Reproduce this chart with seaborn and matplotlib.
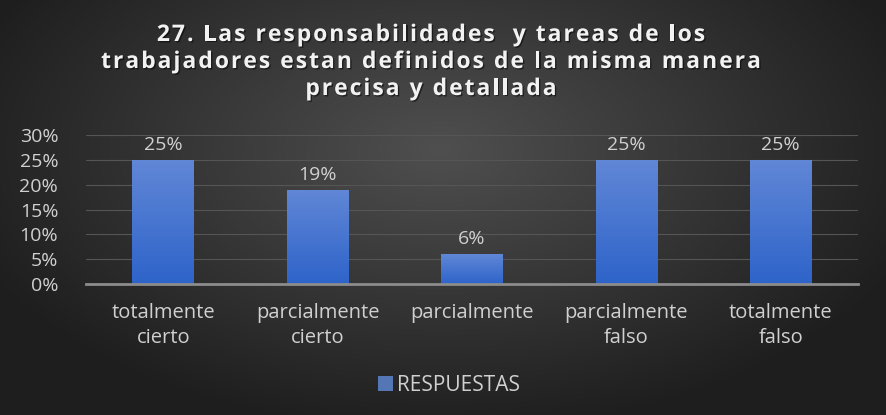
import numpy as np
import pandas as pd
import matplotlib
matplotlib.use("Agg")
import matplotlib.pyplot as plt
import matplotlib.patheffects as pe
import seaborn as sns

categories = ["totalmente\ncierto", "parcialmente\ncierto", "parcialmente",
              "parcialmente\nfalso", "totalmente\nfalso"]
values = [0.25, 0.19, 0.06, 0.25, 0.25]
yticks = [0.0, 0.05, 0.10, 0.15, 0.20, 0.25, 0.30]
ytick_labels = ["0%", "5%", "10%", "15%", "20%", "25%", "30%"]
series_name = "RESPUESTAS"
title_lines = ["27. Las responsabilidades  y tareas de los",
               "trabajadores estan definidos de la misma manera",
               "precisa y detallada"]

sns.set_theme(style="dark")
plt.rcParams["font.family"] = ["Open Sans", "DejaVu Sans"]

W, H = 887, 415
fig = plt.figure(figsize=(W / 100, H / 100), dpi=100)
renderer = fig.canvas.get_renderer()

# dark radial background
bg = fig.add_axes([0, 0, 1, 1], zorder=-10)
yy, xx = np.mgrid[0:H, 0:W]
r = np.sqrt(((xx - 440) / 500.0) ** 2 + ((yy - 150) / 280.0) ** 2)
shade = np.clip(0.31 - 0.19 * r, 0.12, 0.31)
bg.imshow(np.dstack([shade, shade, shade]), aspect="auto", extent=[0, 1, 0, 1])
bg.set_axis_off()

ax = fig.add_axes([86 / W, 131 / H, (858 - 86) / W, (284 - 135) / H])
ax.patch.set_alpha(0)

df = pd.DataFrame({"cat": categories, "val": values})
sns.barplot(data=df, x="cat", y="val", color="#4472C4", width=0.4,
            ax=ax, zorder=3, label=series_name, edgecolor="none", linewidth=0)

# vertical blue gradient on each bar
grad = np.linspace(0, 1, 100).reshape(-1, 1)
top = np.array([0.38, 0.53, 0.84])
bot = np.array([0.18, 0.39, 0.79])
img = top + (bot - top) * grad[..., None]
for p in ax.patches:
    x0, y0 = p.get_x(), p.get_y()
    w, h = p.get_width(), p.get_height()
    im = ax.imshow(img.reshape(100, 1, 3), extent=[x0, x0 + w, y0, y0 + h],
                   aspect="auto", zorder=4)
    im.set_clip_path(p)
    ax.text(x0 + w / 2, h + 0.012, f"{h * 100:.0f}%", ha="center",
            va="bottom", color="#d0d0d0", fontsize=14)

ax.set_xlim(-0.5, len(categories) - 0.5)
ax.set_ylim(0, 0.30)
ax.set_yticks(yticks)
ax.set_yticklabels(ytick_labels)
ax.set_xlabel("")
ax.set_ylabel("")
ax.tick_params(axis="y", colors="#d0d0d0", labelsize=14, length=0, pad=20)
ax.tick_params(axis="x", colors="#d0d0d0", labelsize=14.5, length=0, pad=14)
for lbl in ax.get_xticklabels():
    lbl.set_linespacing(1.3)
ax.grid(axis="y", color="#555555", linewidth=0.8, zorder=0)
ax.grid(axis="x", visible=False)
for s in ["top", "right", "left"]:
    ax.spines[s].set_visible(False)
ax.spines["bottom"].set_color("#8c8c8c")
ax.spines["bottom"].set_linewidth(2)
ax.spines["bottom"].set_zorder(5)


def char_width(c, **kw):
    """Advance width of one character in pixels."""
    t1 = fig.text(0, 0, "|" + c + "|", **kw)
    t2 = fig.text(0, 0, "||", **kw)
    w = (t1.get_window_extent(renderer).width
         - t2.get_window_extent(renderer).width)
    t1.remove()
    t2.remove()
    return w


def spaced_text(s, xc, y_base, spacing, **kw):
    """Centered line of text with extra tracking between characters."""
    widths = [char_width(c, **kw) for c in s]
    total = sum(widths) + spacing * (len(s) - 1)
    x = xc - total / 2
    for c, w in zip(s, widths):
        if c != " ":
            fig.text(x / W, 1 - y_base / H, c, ha="left", va="baseline", **kw)
        x += w + spacing


title_kw = dict(color="#f2f2f2", fontsize=16.5, fontweight="bold",
                path_effects=[pe.withSimplePatchShadow(offset=(1, -1),
                                                       shadow_rgbFace="black",
                                                       alpha=0.5)])
for line, yb in zip(title_lines, [41, 68, 95]):
    spaced_text(line, 431, yb, 2.0, **title_kw)

leg = ax.legend(loc="center", bbox_to_anchor=(0.47, -0.68), frameon=False,
                fontsize=15, labelcolor="#d0d0d0", handlelength=0.7,
                handleheight=0.7, handletextpad=0.2)

fig.savefig("out.png", dpi=100)
